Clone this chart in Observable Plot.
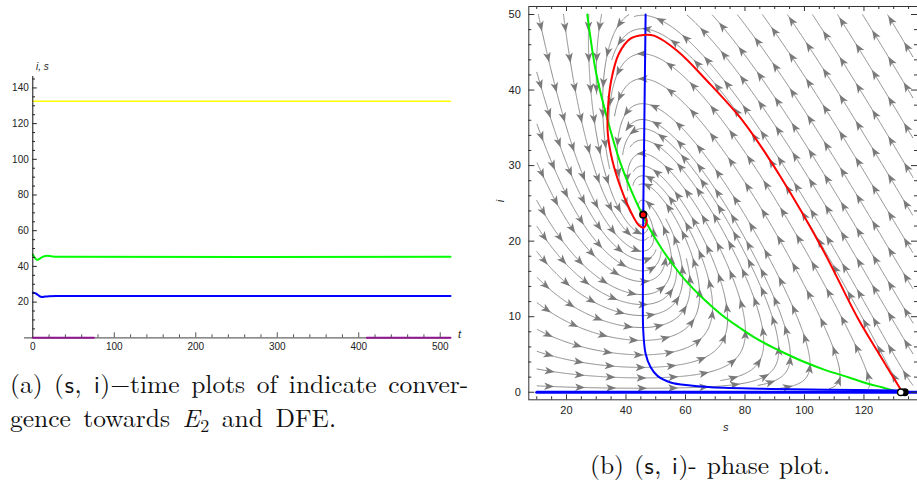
<!DOCTYPE html>
<html>
<head>
<meta charset="utf-8">
<script src="https://cdn.jsdelivr.net/npm/d3@7"></script>
<script src="https://cdn.jsdelivr.net/npm/@observablehq/plot@0.6"></script>
<style>
  body { margin: 0; background: #fff; }
  #root { position: relative; width: 917px; height: 484px; overflow: hidden; background: #fff; }
  #left { position: absolute; left: 0; top: 0; }
  #right { position: absolute; left: 490px; top: 0; }
  #caps { position: absolute; left: 0; top: 0; pointer-events: none; }
</style>
</head>
<body>
<div id="root">
  <div id="left"></div>
  <div id="right"></div>
  <svg id="caps" width="917" height="484"></svg>
</div>
<script>
// ---------------- (a) time plot data ----------------
const tYellow = [0, 512.6];
const sYellow = [132.5, 132.5];
const tGreen = [0, 2, 4.5, 7, 9, 11.5, 14, 17.6, 24, 35, 512.6];
const sGreen = [46.7, 45.2, 43.8, 43.9, 44.5, 45.2, 45.7, 46.0, 45.6, 45.4, 45.4];
const tBlue = [0, 3, 6, 8, 10, 12, 15, 20, 30, 512.6];
const iBlue = [25.3, 25.0, 24.1, 23.4, 23.0, 22.9, 23.1, 23.3, 23.4, 23.4];
const tMag1 = [0, 75];
const tMag2 = [410, 512.6];
const iMag = [0, 0];
const xMajorA = [100, 200, 300, 400, 500];
const xLabelsA = [0, 100, 200, 300, 400, 500];
const xMinorA = [20, 40, 60, 80, 120, 140, 160, 180, 220, 240, 260, 280, 320, 340, 360, 380, 420, 440, 460, 480];
const yMajorA = [20, 40, 60, 80, 100, 120, 140];
const yMinorA = [5, 10, 15, 25, 30, 35, 45, 50, 55, 65, 70, 75, 85, 90, 95, 105, 110, 115, 125, 130, 135, 145];

// ---------------- (b) phase plot data ----------------
const sGreenNull = [27, 30, 33.7, 38, 42, 45.5, 48.3, 52, 55.6, 60, 66.2, 72, 78, 83, 90, 95.4, 100, 106.6, 113, 120, 126, 132.1];
const iGreenNull = [50, 42.2, 36.2, 30.5, 26.5, 23.5, 21.4, 19.0, 17.0, 14.8, 12.3, 10.3, 8.6, 7.3, 5.8, 4.8, 4.0, 3.0, 2.2, 1.3, 0.65, 0];
const sBlueNull = [46.6, 46.3, 46.0, 45.8, 45.7, 45.8, 46.6, 48.3, 50.5, 55, 61.7, 72.9, 85, 95.4, 117.8, 133];
const iBlueNull = [50, 40, 30, 23.5, 15, 8.2, 5.1, 3.3, 2.2, 1.3, 0.9, 0.58, 0.47, 0.4, 0.3, 0.22];
const sAxisLine = [10, 138];
const iAxisLine = [0, 0];
const sRed = [132.6, 125.2, 117.8, 106.0, 92.0, 79.7, 67.3, 57.2, 49.4, 46.0, 41.5, 37.6, 35.0, 33.9, 33.9, 35.4, 38.2, 41.5, 44.3, 46.0, 47.0, 45.8];
const iRed = [0.2, 5.0, 9.9, 19.0, 28.5, 35.7, 41.2, 45.2, 47.2, 47.3, 46.8, 44.8, 41.2, 37.3, 34.2, 30.7, 27.1, 24.0, 22.1, 21.8, 22.7, 23.5];
const eqS = [45.8];
const eqI = [23.5];
const dfeBlackS = [133.7];
const dfeOpenS = [132.4];
const dfeI = [0];
const xMajorB = [20, 40, 60, 80, 100, 120];
const xMinorB = [10, 15, 25, 30, 35, 45, 50, 55, 65, 70, 75, 85, 90, 95, 105, 110, 115, 125, 130, 135];
const yMajorB = [0, 10, 20, 30, 40, 50];
const yMinorB = [2, 4, 6, 8, 12, 14, 16, 18, 22, 24, 26, 28, 32, 34, 36, 38, 42, 44, 46, 48];

// caption words: [text, style, space before]  (style 0 roman, 1 sans, 2 italic, 3 subscript)
const capA1 = [["(a)", 0, false], ["(", 0, true], ["s", 1, false], [",", 0, false], ["i", 1, true], [")−time", 0, false], ["plots", 0, true], ["of", 0, true], ["indicate", 0, true], ["conver-", 0, true]];
const capA2 = [["gence", 0, false], ["towards", 0, true], ["E", 2, true], ["2", 3, false], ["and", 0, true], ["DFE.", 0, true]];
const capB = [["(b)", 0, false], ["(", 0, true], ["s", 1, false], [",", 0, false], ["i", 1, true], [")-", 0, false], ["phase", 0, true], ["plot.", 0, true]];

// model constants (DFE s, E2 s, E2 i)
const S_DFE = 133;
const S_STAR = 45.5;
const I_STAR = 23.5;
const KAPPA = S_STAR * I_STAR / (S_DFE - S_STAR);

// ---------------- layout ----------------
const W1 = 470, H1 = 362;
const mA = {top: 76, right: 20, bottom: H1 - 337.3, left: 32.3};
const FW1 = W1 - mA.left - mA.right, FH1 = H1 - mA.top - mA.bottom;

const W2 = 427, H2 = 440;
const mB = {top: 6, right: 0, bottom: 40.7, left: 38.3};
const xDom2 = [7.33, 138.0], yDom2 = [-1.0, 51.06];
const FW2 = W2 - mB.left - mB.right, FH2 = H2 - mB.top - mB.bottom;
const kx = FW2 / (xDom2[1] - xDom2[0]);
const ky = FH2 / (yDom2[1] - yDom2[0]);

// ---------------- stream lines for the phase plot ----------------
function buildStreams() {
  const Xmin = (10 - xDom2[0]) * kx, Xmax = (136.5 - xDom2[0]) * kx;
  const Ymin = (0.45 - yDom2[0]) * ky, Ymax = (50 - yDom2[0]) * ky;
  const eqX = (S_STAR - xDom2[0]) * kx, eqY = (I_STAR - yDom2[0]) * ky;
  function vel(X, Y) {
    const s = X / kx + xDom2[0], i = Y / ky + yDom2[0];
    const a = (S_DFE - s - s * i / KAPPA) * kx;
    const b = (i * (s - S_STAR) / KAPPA) * ky;
    const m = Math.hypot(a, b);
    if (!(m > 1e-9)) return null;
    return [a / m, b / m];
  }
  const dsep = 12.5, dtest = 5.5, h = 1;
  const grid = new Map();
  const add = p => {
    const k = Math.floor(p.X / dsep) + ":" + Math.floor(p.Y / dsep);
    let c = grid.get(k); if (!c) { c = []; grid.set(k, c); } c.push(p);
  };
  function tooClose(X, Y, d, line, seq) {
    const cx = Math.floor(X / dsep), cy = Math.floor(Y / dsep);
    for (let ix = cx - 1; ix <= cx + 1; ix++) for (let iy = cy - 1; iy <= cy + 1; iy++) {
      const c = grid.get(ix + ":" + iy); if (!c) continue;
      for (const p of c) {
        if (p.line === line && Math.abs(p.seq - seq) < 25) continue;
        const dx = p.X - X, dy = p.Y - Y;
        if (dx * dx + dy * dy < d * d) return true;
      }
    }
    return false;
  }
  function trace(X, Y, dir, line) {
    const pts = []; let seq = 0;
    for (let n = 0; n < 2500; n++) {
      const v1 = vel(X, Y); if (!v1) break;
      const v2 = vel(X + dir * v1[0] * h / 2, Y + dir * v1[1] * h / 2); if (!v2) break;
      const nx = X + dir * v2[0] * h, ny = Y + dir * v2[1] * h;
      if (nx < Xmin || nx > Xmax || ny < Ymin || ny > Ymax) break;
      seq += dir;
      if (tooClose(nx, ny, dtest, line, seq)) break;
      if (Math.hypot(nx - eqX, ny - eqY) < 3) break;
      X = nx; Y = ny;
      const p = {X, Y, line, seq}; pts.push(p); add(p);
    }
    return pts;
  }
  const lines = [];
  let id = 0;
  for (let Y = Ymax - 2; Y > Ymin; Y -= dsep) {
    for (let X = Xmin + 2; X < Xmax; X += dsep) {
      if (tooClose(X, Y, dsep, -1, 0)) continue;
      if (!vel(X, Y)) continue;
      const line = id++;
      const seed = {X, Y, line, seq: 0}; add(seed);
      const f = trace(X, Y, 1, line), b = trace(X, Y, -1, line);
      lines.push([...b.reverse(), seed, ...f]);
    }
  }
  const streamPts = [], arrowPts = [];
  lines.forEach((pts, li) => {
    if (pts.length < 8) return;
    for (const p of pts) streamPts.push({s: p.X / kx + xDom2[0], i: p.Y / ky + yDom2[0], id: li});
    let acc = 0, next = 12;
    for (let k = 1; k < pts.length; k++) {
      acc += Math.hypot(pts[k].X - pts[k - 1].X, pts[k].Y - pts[k - 1].Y);
      if (acc >= next && acc < pts.length - 4) {
        const v = vel(pts[k].X, pts[k].Y);
        if (v) arrowPts.push({s: pts[k].X / kx + xDom2[0], i: pts[k].Y / ky + yDom2[0], a: Math.atan2(v[0], v[1]) * 180 / Math.PI});
        next += 31;
      }
    }
  });
  return {streamPts, arrowPts};
}
const {streamPts, arrowPts} = buildStreams();

const arrowShape = {
  draw(context, l) {
    const w = l * 0.38;
    context.moveTo(0, -l);
    context.lineTo(w, 0);
    context.lineTo(0, -l * 0.25);
    context.lineTo(-w, 0);
    context.closePath();
  }
};

// ---------------- (a) chart ----------------
const left = Plot.plot({
  width: W1, height: H1,
  marginTop: mA.top, marginRight: mA.right, marginBottom: mA.bottom, marginLeft: mA.left,
  x: {domain: [0, 512.6]},
  y: {domain: [0, 146.4]},
  style: {fontFamily: "Liberation Sans, Arial, sans-serif", fontSize: "10px", color: "#222", background: "none"},
  marks: [
    Plot.line(tYellow, {x: tYellow, y: sYellow, stroke: "#ffff00", strokeWidth: 1.6}),
    Plot.line(tGreen, {x: tGreen, y: sGreen, stroke: "#00ff00", strokeWidth: 2, curve: "catmull-rom"}),
    Plot.line(tBlue, {x: tBlue, y: iBlue, stroke: "#0000ff", strokeWidth: 2, curve: "catmull-rom"}),
    Plot.ruleY([0], {stroke: "#666", strokeWidth: 1.2, insetLeft: -8.3}),
    Plot.line(tMag1, {x: tMag1, y: iMag, stroke: "#8e168e", strokeWidth: 2}),
    Plot.line(tMag2, {x: tMag2, y: iMag, stroke: "#8e168e", strokeWidth: 2}),
    Plot.ruleX([0], {stroke: "#111", strokeWidth: 1}),
    Plot.ruleX(xMajorA, {stroke: "#555", insetTop: FH1 - 5}),
    Plot.ruleX(xMinorA, {stroke: "#555", insetTop: FH1 - 3}),
    Plot.ruleY(yMajorA, {stroke: "#222", insetRight: FW1 - 4.5}),
    Plot.ruleY(yMinorA, {stroke: "#222", insetRight: FW1 - 2.7}),
    Plot.axisX({ticks: xLabelsA, tickSize: 0, tickPadding: 5, label: null}),
    Plot.axisY({ticks: yMajorA, tickSize: 0, tickPadding: 4, label: null}),
    Plot.text(["i, s"], {frameAnchor: "top-left", dx: 3.2, dy: -13.5, fontStyle: "italic", fontSize: 10}),
    Plot.text(["t"], {frameAnchor: "bottom-right", dx: 10.5, dy: 0.5, fontStyle: "italic", fontSize: 11})
  ]
});
document.getElementById("left").appendChild(left);

// ---------------- (b) chart ----------------
const right = Plot.plot({
  width: W2, height: H2,
  marginTop: mB.top, marginRight: mB.right, marginBottom: mB.bottom, marginLeft: mB.left,
  x: {domain: xDom2},
  y: {domain: yDom2},
  style: {fontFamily: "Liberation Sans, Arial, sans-serif", fontSize: "11px", color: "#222", background: "none", overflow: "visible"},
  marks: [
    Plot.line(streamPts, {x: "s", y: "i", z: "id", stroke: "#8c8c8c", strokeWidth: 1}),
    Plot.vector(arrowPts, {x: "s", y: "i", rotate: "a", length: 10, anchor: "middle", shape: arrowShape, fill: "#7a7a7a", stroke: "none"}),
    Plot.line(sGreenNull, {x: sGreenNull, y: iGreenNull, stroke: "#00ee00", strokeWidth: 2, curve: "catmull-rom"}),
    Plot.line(sBlueNull, {x: sBlueNull, y: iBlueNull, stroke: "#0000ff", strokeWidth: 2, curve: "catmull-rom"}),
    Plot.line(sAxisLine, {x: sAxisLine, y: iAxisLine, stroke: "#0000ff", strokeWidth: 3}),
    Plot.line(sRed, {x: sRed, y: iRed, stroke: "#ff0000", strokeWidth: 2, curve: "catmull-rom"}),
    Plot.dot(eqS, {x: eqS, y: eqI, r: 3.3, fill: "#ff0000", stroke: "#000", strokeWidth: 1.6}),
    Plot.dot(dfeBlackS, {x: dfeBlackS, y: dfeI, r: 3.3, fill: "#000", stroke: "#000"}),
    Plot.dot(dfeOpenS, {x: dfeOpenS, y: dfeI, r: 3.3, fill: "#fff", stroke: "#000", strokeWidth: 1.4}),
    Plot.frame({stroke: "#333"}),
    Plot.ruleX(xMajorB, {stroke: "#333", insetTop: FH2 - 5}),
    Plot.ruleX(xMinorB, {stroke: "#333", insetTop: FH2 - 3}),
    Plot.ruleX(xMajorB, {stroke: "#333", insetBottom: FH2 - 5}),
    Plot.ruleX(xMinorB, {stroke: "#333", insetBottom: FH2 - 3}),
    Plot.ruleY(yMajorB, {stroke: "#333", insetRight: FW2 - 6}),
    Plot.ruleY(yMinorB, {stroke: "#333", insetRight: FW2 - 3}),
    Plot.ruleY(yMajorB, {stroke: "#333", insetLeft: FW2 - 6}),
    Plot.ruleY(yMinorB, {stroke: "#333", insetLeft: FW2 - 3}),
    Plot.axisX({ticks: xMajorB, tickSize: 0, tickPadding: 6, label: null}),
    Plot.axisY({ticks: yMajorB, tickSize: 0, tickPadding: 8, label: null}),
    Plot.text(["s"], {frameAnchor: "bottom", dx: 2.5, dy: 30.7, fontStyle: "italic", fontSize: 11}),
    Plot.text(["i"], {frameAnchor: "left", dx: -28.3, dy: -1, rotate: -90, fontStyle: "italic", fontSize: 11})
  ]
});
document.getElementById("right").appendChild(right);

// ---------------- captions (justified word by word) ----------------
const SERIF = "'Latin Modern Roman','Liberation Serif',serif";
const SANS = "'Latin Modern Sans','Liberation Sans',sans-serif";
const wordStyles = [
  {family: SERIF, size: 25.5, italic: false, dy: 0},
  {family: SANS, size: 24, italic: false, dy: 0},
  {family: SERIF, size: 25.5, italic: true, dy: 0},
  {family: SERIF, size: 18, italic: false, dy: 5}
];
const caps = d3.select("#caps");
function caption(words, x0, baseline, targetWidth) {
  const els = words.map(([txt, st]) => {
    const s = wordStyles[st];
    return caps.append("text")
      .attr("y", baseline + s.dy)
      .style("font-family", s.family)
      .style("font-size", s.size + "px")
      .style("font-style", s.italic ? "italic" : "normal")
      .style("fill", "#111")
      .text(txt);
  });
  const widths = els.map(e => e.node().getComputedTextLength());
  const gaps = words.filter(w => w[2]).length;
  const total = d3.sum(widths);
  const gap = gaps ? Math.max(3, (targetWidth - total) / gaps) : 0;
  let cur = x0;
  els.forEach((e, k) => {
    if (words[k][2]) cur += gap;
    e.attr("x", cur);
    cur += widths[k] + (words[k][0] === "," ? 1.5 : 0.6);
  });
}
caption(capA1, 10, 392.5, 452);
caption(capA2, 10, 427, 323);
caption(capB, 590, 474, 235);
</script>
</body>
</html>
